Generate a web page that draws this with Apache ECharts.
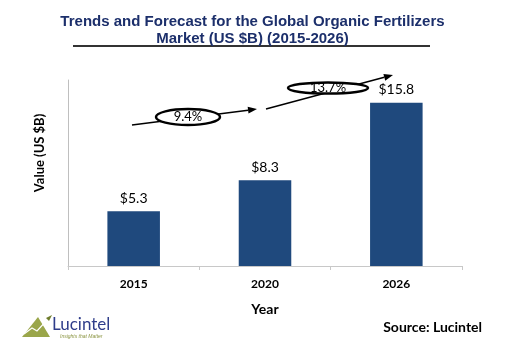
<!DOCTYPE html>
<html>
<head>
<meta charset="utf-8">
<script src="https://cdn.jsdelivr.net/npm/echarts@6/dist/echarts.min.js"></script>
<style>html,body{margin:0;padding:0;background:#fff}#c{width:505px;height:363px}</style>
</head>
<body>
<div id="c"></div>
<script>
const categories = ['2015', '2020', '2026'];
const values = [5.3, 8.3, 15.8];
const valueLabels = ['$5.3', '$8.3', '$15.8'];
const cagrLabels = ['9.4%', '13.7%'];
const titleLines = ['Trends and Forecast for the Global Organic Fertilizers', 'Market (US $B) (2015-2026)'];
const yAxisTitle = 'Value (US $B)';
const xAxisTitle = 'Year';

const chart = echarts.init(document.getElementById('c'), null, {renderer: 'canvas'});
const bodyFont = 'Lato, "Open Sans", sans-serif';

function arrow(x1, y1, x2, y2) {
  const ang = Math.atan2(y2 - y1, x2 - x1);
  const L = 9, W = 3.5;
  const bx = x2 - L * Math.cos(ang), by = y2 - L * Math.sin(ang);
  const px = -Math.sin(ang) * W, py = Math.cos(ang) * W;
  return [
    {type: 'line', shape: {x1: x1, y1: y1, x2: bx, y2: by}, style: {stroke: '#000', lineWidth: 1.5}, z: 10},
    {type: 'polygon', shape: {points: [[x2, y2], [bx + px, by + py], [bx - px, by - py]]}, style: {fill: '#000'}, z: 10}
  ];
}
function oval(cx, cy, rx, ry, text) {
  return [
    {type: 'ellipse', shape: {cx: cx, cy: cy, rx: rx, ry: ry}, style: {fill: '#fff', stroke: '#000', lineWidth: 2.5}, z: 11},
    {type: 'text', x: cx, y: cy, style: {text: text, font: '13px ' + bodyFont, fill: '#000', align: 'center', verticalAlign: 'middle'}, z: 12}
  ];
}

const graphics = [].concat(
  [{type: 'line', shape: {x1: 73, y1: 46, x2: 430, y2: 46}, style: {stroke: '#333', lineWidth: 2}}],
  arrow(132, 125, 257, 109),
  arrow(266, 109, 393, 75),
  oval(188, 117, 32, 8, cagrLabels[0]),
  oval(328, 88, 40, 5.5, cagrLabels[1]),
  [
    {type: 'text', x: 40, y: 153, rotation: Math.PI / 2, style: {text: yAxisTitle, font: 'bold 13px ' + bodyFont, fill: '#000', align: 'center', verticalAlign: 'middle'}},
    {type: 'polygon', shape: {points: [[22, 337], [38, 317], [50, 337]]}, style: {fill: '#9aa64a'}},
    {type: 'polyline', shape: {points: [[24, 334], [32, 328], [37, 331], [48, 319]]}, style: {stroke: '#fff', lineWidth: 1.2, fill: null}},
    {type: 'polygon', shape: {points: [[52, 315], [46, 318], [49, 321]]}, style: {fill: '#6f7d2c'}},
    {type: 'text', x: 52, y: 325, style: {text: 'Lucintel', font: '17px ' + bodyFont, fill: '#2f3d8a', verticalAlign: 'middle'}},
    {type: 'text', x: 60, y: 337, style: {text: 'Insights that Matter', font: 'italic 5px sans-serif', fill: '#8a9440', verticalAlign: 'middle'}},
    {type: 'text', x: 482, y: 327, style: {text: 'Source: Lucintel', font: 'bold 14px ' + bodyFont, fill: '#000', align: 'right', verticalAlign: 'middle'}}
  ]
);

chart.setOption({
  animation: false,
  backgroundColor: '#fff',
  title: {
    text: titleLines.join('\n'),
    left: 'center', top: 8,
    textStyle: {fontFamily: '"Liberation Sans", Arial, sans-serif', fontWeight: 'bold', fontSize: 15, color: '#1c2f6b', lineHeight: 17}
  },
  grid: {left: 68, right: 43, top: 80, bottom: 97},
  xAxis: {
    type: 'category', data: categories,
    name: xAxisTitle, nameLocation: 'middle', nameGap: 36,
    nameTextStyle: {fontFamily: bodyFont, fontWeight: 'bold', fontSize: 14, color: '#000'},
    axisLine: {lineStyle: {color: '#c8c8c8', width: 1}},
    axisTick: {show: true, length: 4, lineStyle: {color: '#c8c8c8'}},
    axisLabel: {fontFamily: bodyFont, fontWeight: 'bold', fontSize: 12, color: '#000', margin: 12}
  },
  yAxis: {
    type: 'value', min: 0, max: 18, interval: 2,
    axisLine: {show: true, lineStyle: {color: '#bfbfbf', width: 1}},
    axisTick: {show: false}, axisLabel: {show: false}, splitLine: {show: false}
  },
  series: [{
    type: 'bar', data: values, barWidth: '40%',
    itemStyle: {color: '#1f497d'},
    label: {show: true, position: 'top', distance: 6, fontFamily: bodyFont, fontSize: 14, color: '#000',
      formatter: p => valueLabels[p.dataIndex]}
  }],
  graphic: graphics
});
</script>
</body>
</html>
